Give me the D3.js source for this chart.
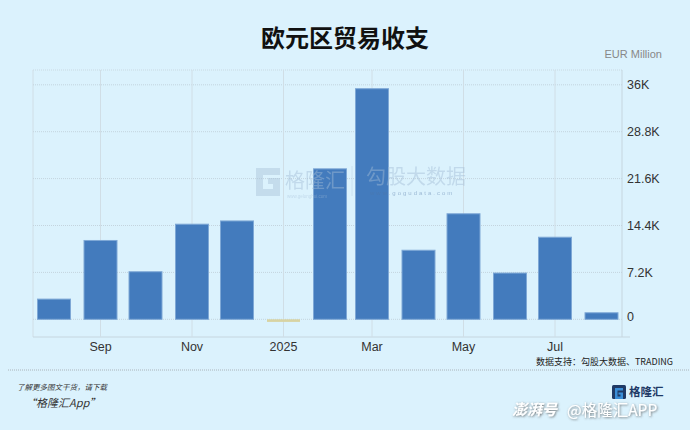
<!DOCTYPE html>
<html><head><meta charset="utf-8">
<script src="https://cdn.jsdelivr.net/npm/d3@7"></script>
<style>
html,body{margin:0;padding:0;background:#dbf2fd;}
svg{display:block;}
</style></head>
<body><svg id="c" width="690" height="430"></svg>
<script>
const months = ["2024-08","2024-09","2024-10","2024-11","2024-12","2025-01","2025-02","2025-03","2025-04","2025-05","2025-06","2025-07","2025-08"];
const values = [3100,12100,7300,14600,15100,-400,23100,35400,10600,16200,7100,12600,1000];
const yTicks = [0,7200,14400,21600,28800,36000];
const yTickLabels = ["0","7.2K","14.4K","21.6K","28.8K","36K"];
const xTickLabels = {"2024-09":"Sep","2024-11":"Nov","2025-01":"2025","2025-03":"Mar","2025-05":"May","2025-07":"Jul"};

const svg = d3.select("#c");
const parse = d3.timeParse("%Y-%m");
const dates = months.map(parse);
const plot = {l:33, r:622, t:70, b:337};

const defs = svg.append("defs");
const f = defs.append("filter").attr("id","sh").attr("x","-10%").attr("y","-30%").attr("width","120%").attr("height","160%");
f.append("feDropShadow").attr("dx",0.8).attr("dy",0.8).attr("stdDeviation",0.8)
  .attr("flood-color","#555").attr("flood-opacity",0.8);

const x = d3.scaleTime().domain([parse("2024-08"), parse("2025-08")]).range([54, 601.5]);
const y = d3.scaleLinear().domain([0,36000]).range([319.3, 84.8]);
const barW = 33;

// title
svg.append("text").attr("x",345).attr("y",47).attr("text-anchor","middle")
  .attr("font-family","'Noto Sans CJK SC',sans-serif").attr("font-weight","bold")
  .attr("font-size",24).attr("fill","#111").text("欧元区贸易收支");
svg.append("text").attr("x",662).attr("y",58).attr("text-anchor","end")
  .attr("font-family","'Liberation Sans',Arial,sans-serif").attr("font-size",11)
  .attr("fill","#888").text("EUR Million");

// grid
const g = svg.append("g");
g.append("line").attr("x1",plot.l).attr("x2",plot.r).attr("y1",plot.t).attr("y2",plot.t)
  .attr("stroke","#c9d9e2").attr("stroke-dasharray","1,1");
g.append("line").attr("x1",plot.l).attr("x2",plot.l).attr("y1",plot.t).attr("y2",plot.b)
  .attr("stroke","#d0dee6");
g.append("line").attr("x1",plot.r).attr("x2",plot.r).attr("y1",plot.t).attr("y2",plot.b)
  .attr("stroke","#c6d6df");
g.append("line").attr("x1",plot.l).attr("x2",630).attr("y1",plot.b).attr("y2",plot.b)
  .attr("stroke","#c6d6df");
g.selectAll("line.h").data(yTicks).enter().append("line").attr("class","h")
  .attr("x1",plot.l).attr("x2",plot.r).attr("y1",d=>y(d)).attr("y2",d=>y(d))
  .attr("stroke","#c4d4de").attr("stroke-dasharray","1,1");
const xt = Object.keys(xTickLabels).map(k=>parse(k));
g.selectAll("line.v").data(xt).enter().append("line").attr("class","v")
  .attr("x1",d=>x(d)).attr("x2",d=>x(d)).attr("y1",plot.t).attr("y2",plot.b)
  .attr("stroke","#d0dee6");

// bars
svg.append("g").selectAll("rect").data(values).enter().append("rect")
  .attr("x",(d,i)=>x(dates[i])-barW/2).attr("width",barW)
  .attr("y",d=>d>=0?y(d):y(0)).attr("height",d=>Math.max(Math.abs(y(d)-y(0)),2.5))
  .attr("fill",d=>d>=0?"#437bbd":"#d8d3a2")
  .attr("stroke",d=>d>=0?"#7ea8d6":"none").attr("stroke-width",1);

// watermark (over bars, translucent)
const wm = svg.append("g").attr("opacity",0.45);
wm.append("path").attr("d","M256,168 h24 v7 h-17 v14 h10 v-5 h-5 v-6 h12 v18 h-24 z").attr("fill","#a9c2d8");
wm.append("text").attr("x",285).attr("y",188).attr("font-family","'Noto Sans CJK SC',sans-serif")
  .attr("font-size",20).attr("fill","#a3bdd6").text("格隆汇");
wm.append("text").attr("x",287).attr("y",198).attr("font-family","'Liberation Sans',sans-serif")
  .attr("font-size",4.5).attr("fill","#a3bdd6").text("www.gelonghui.com");
wm.append("line").attr("x1",352).attr("x2",352).attr("y1",166).attr("y2",196).attr("stroke","#b5cde0");
wm.append("text").attr("x",366).attr("y",184).attr("font-family","'Noto Sans CJK SC',sans-serif")
  .attr("font-size",20).attr("fill","#a3bdd6").text("勾股大数据");
wm.append("text").attr("x",370).attr("y",195).attr("font-family","'Liberation Sans',sans-serif")
  .attr("font-size",6).attr("letter-spacing",2).attr("fill","#4f74a4").text("www.gogudata.com");

// y labels
svg.append("g").selectAll("text").data(yTicks).enter().append("text")
  .attr("x",627).attr("y",d=>y(d)+(d===0?2:4.5)).attr("font-family","'Liberation Sans',Arial,sans-serif")
  .attr("font-size",12.5).attr("fill","#333").text((d,i)=>yTickLabels[i]);

// x labels
svg.append("g").selectAll("text").data(xt).enter().append("text")
  .attr("x",d=>x(d)).attr("y",351).attr("text-anchor","middle")
  .attr("font-family","'Liberation Sans',Arial,sans-serif").attr("font-size",12.5)
  .attr("fill","#333").text(d=>xTickLabels[d3.timeFormat("%Y-%m")(d)]);

// footer
svg.append("text").attr("x",673).attr("y",365).attr("text-anchor","end")
  .attr("font-family","'Noto Sans CJK SC',sans-serif").attr("font-size",9)
  .attr("fill","#222").text("数据支持：勾股大数据、TRADING");
svg.append("line").attr("x1",8).attr("x2",690).attr("y1",370).attr("y2",370)
  .attr("stroke","#aab4ba").attr("stroke-dasharray","1,1");
svg.append("text").attr("x",17).attr("y",390).attr("font-family","'Noto Sans CJK SC',sans-serif")
  .attr("font-size",7.5).attr("font-style","italic")
  .attr("fill","#333").text("了解更多图文干货，请下载");
svg.append("text").attr("x",25).attr("y",407).attr("font-family","'Noto Sans CJK SC',sans-serif")
  .attr("font-size",11).attr("font-style","italic")
  .attr("fill","#333").text("“格隆汇App”");

// bottom-right brand
const br = svg.append("g");
br.append("rect").attr("x",612).attr("y",385).attr("width",14).attr("height",14).attr("fill","#1f3a66").attr("rx",1.5);
br.append("path").attr("d","M615,388 h8 v2.5 h-5.5 v6 h3 v-2 h-2 v-2 h4.5 v6.5 h-8 z").attr("fill","#3a8ed8");
br.append("text").attr("x",629).attr("y",396).attr("font-family","'Noto Sans CJK SC',sans-serif")
  .attr("font-weight","bold").attr("font-size",11.5).attr("fill","#1f3a66").text("格隆汇");
br.append("text").attr("x",512).attr("y",415).attr("font-family","'Noto Sans CJK SC',sans-serif")
  .attr("font-weight","bold").attr("font-style","italic").attr("font-size",15).attr("fill","#fff")
  .attr("filter","url(#sh)").text("澎湃号");
br.append("text").attr("x",567).attr("y",416).attr("font-family","'Noto Sans CJK SC',sans-serif")
  .attr("font-size",15.5).attr("fill","#fff").attr("filter","url(#sh)").text("@格隆汇APP");
</script></body></html>
